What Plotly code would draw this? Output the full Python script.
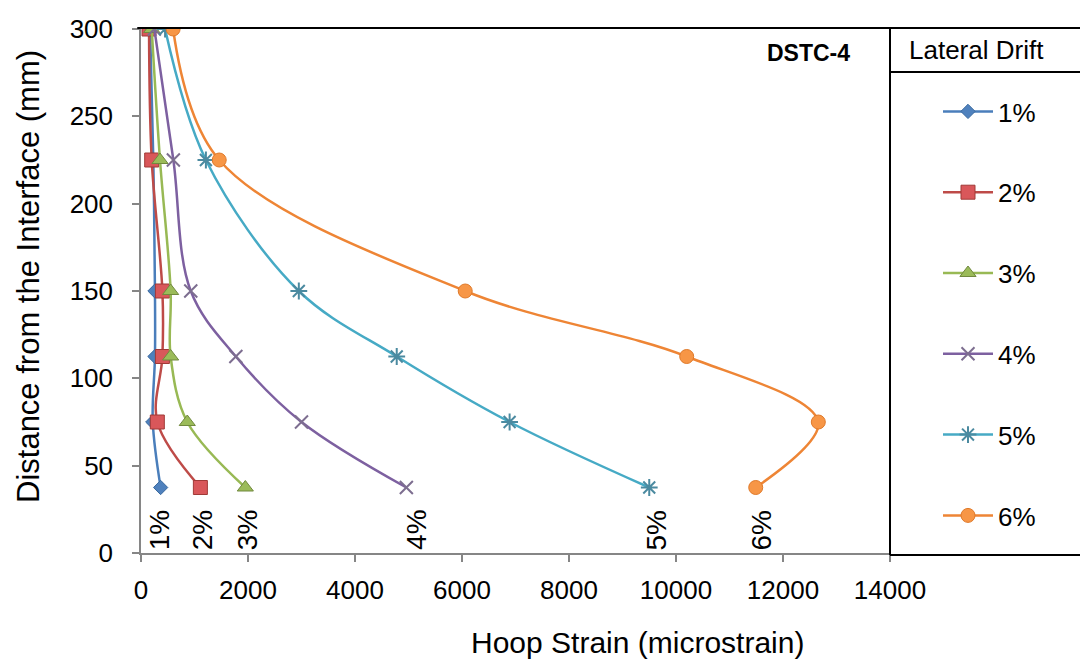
import plotly.graph_objects as go

# Distance of each gauge from the interface (mm)
distance_mm = [300, 225, 150, 112.5, 75, 37.5]

# Hoop strain (microstrain) at each gauge for each lateral drift level
drift_names = ["1%", "2%", "3%", "4%", "5%", "6%"]
strain_1 = [170, 230, 261, 261, 220, 367]
strain_2 = [150, 200, 400, 400, 305, 1110]
strain_3 = [200, 355, 554, 554, 865, 1950]
strain_4 = [250, 605, 930, 1773, 3000, 4960]
strain_5 = [450, 1213, 2950, 4780, 6890, 9500]
strain_6 = [600, 1462, 6060, 10200, 12660, 11490]

# Positions of the rotated drift labels along the strain axis
label_x = [336, 1139, 1979, 5152, 9632, 11592]
label_y = 13

x_ticks = [0, 2000, 4000, 6000, 8000, 10000, 12000, 14000]
y_ticks = [0, 50, 100, 150, 200, 250, 300]

series = [strain_1, strain_2, strain_3, strain_4, strain_5, strain_6]

line_colors = ["#4A7EBB", "#BE4B48", "#98B954", "#7D60A0", "#46AAC5", "#EE8535"]
fill_colors = ["#4F81BD", "#D9575A", "#9BBB59", "#7D60A0", "#4BACC6", "#F79646"]
edge_colors = ["#3A6A9F", "#A03A37", "#71893F", "#7D6E90", "#4B8AA0", "#E07A2A"]
symbols = ["diamond", "square", "triangle-up", "x-thin-open", "asterisk-open", "circle"]
sizes = [11, 14, 14, 13, 14, 14]

FONT = "Liberation Sans, Arial, sans-serif"

# plot area in pixels: x 141..890, y 29..553
PX_L, PX_R, PX_T, PX_B = 141, 890, 29, 553


def px_to_paper_x(px):
    return (px - PX_L) / (PX_R - PX_L)


def px_to_paper_y(py):
    return (PX_B - py) / (PX_B - PX_T)


fig = go.Figure()

for i, (name, xs) in enumerate(zip(drift_names, series)):
    open_sym = symbols[i].endswith("open")
    fig.add_trace(go.Scatter(
        x=xs,
        y=distance_mm,
        name=name,
        legendgroup=name,
        mode="lines+markers",
        line=dict(color=line_colors[i], width=2.5, shape="spline", smoothing=1.0),
        marker=dict(
            symbol=symbols[i],
            size=sizes[i],
            color=fill_colors[i] if not open_sym else edge_colors[i],
            line=dict(color=edge_colors[i], width=2 if open_sym else 1),
        ),
    ))

# Rotated drift labels near the bottom of the chart
for name, lx in zip(drift_names, label_x):
    fig.add_annotation(
        x=lx, y=label_y, xref="x", yref="y",
        text=name, textangle=-90, showarrow=False,
        font=dict(family=FONT, size=28, color="black"),
        xanchor="center", yanchor="middle",
    )

# Specimen tag
fig.add_annotation(
    x=px_to_paper_x(852), y=px_to_paper_y(53), xref="paper", yref="paper",
    text="<b>DSTC-4</b>", showarrow=False, xanchor="right", yanchor="middle",
    font=dict(family=FONT, size=23, color="black"),
)

# Legend header
fig.add_annotation(
    x=px_to_paper_x(907), y=px_to_paper_y(50), xref="paper", yref="paper",
    text="Lateral Drift", showarrow=False, xanchor="left", yanchor="middle",
    font=dict(family=FONT, size=26, color="black"),
)

# Axis titles
fig.add_annotation(
    x=px_to_paper_x(637), y=px_to_paper_y(642), xref="paper", yref="paper",
    text="Hoop Strain (microstrain)", showarrow=False,
    xanchor="center", yanchor="middle",
    font=dict(family=FONT, size=30, color="black"),
)
fig.add_annotation(
    x=px_to_paper_x(28), y=px_to_paper_y(277), xref="paper", yref="paper",
    text="Distance from the Interface (mm)", showarrow=False, textangle=-90,
    xanchor="center", yanchor="middle",
    font=dict(family=FONT, size=31, color="black"),
)

# Frame lines: top border and legend box
box_line = dict(color="black", width=2)
fig.add_shape(type="line", xref="paper", yref="paper",
              x0=-0.005, x1=1.3, y0=1.002, y1=1.002, line=box_line)
fig.add_shape(type="line", xref="paper", yref="paper",
              x0=1.0, x1=1.0, y0=1.002, y1=-0.004, line=box_line)
fig.add_shape(type="line", xref="paper", yref="paper",
              x0=1.0, x1=1.3, y0=px_to_paper_y(72), y1=px_to_paper_y(72), line=box_line)
fig.add_shape(type="line", xref="paper", yref="paper",
              x0=1.0, x1=1.3, y0=-0.004, y1=-0.004, line=box_line)

axis_common = dict(
    showgrid=False, zeroline=False,
    showline=True, linecolor="#868686", linewidth=1.5,
    ticks="outside", ticklen=7, tickcolor="#868686", tickwidth=1.5,
    tickfont=dict(family=FONT, size=26, color="black"),
)

fig.update_xaxes(
    range=[0, 14000], tickvals=x_ticks, ticktext=[str(v) for v in x_ticks],
    ticklabelstandoff=6,
    **axis_common,
)
fig.update_yaxes(
    range=[0, 300], tickvals=y_ticks, ticktext=[str(v) for v in y_ticks],
    ticklabelstandoff=14,
    **axis_common,
)

fig.update_layout(
    width=1080, height=664,
    margin=dict(l=PX_L, r=1080 - PX_R, t=PX_T, b=664 - PX_B, autoexpand=False),
    paper_bgcolor="white", plot_bgcolor="white",
    showlegend=True,
    legend=dict(
        x=px_to_paper_x(938), y=px_to_paper_y(88), xanchor="left", yanchor="top",
        font=dict(family=FONT, size=26, color="black"),
        tracegroupgap=44, itemwidth=50,
        bgcolor="rgba(0,0,0,0)", borderwidth=0,
    ),
)

fig.write_html("out.html")
